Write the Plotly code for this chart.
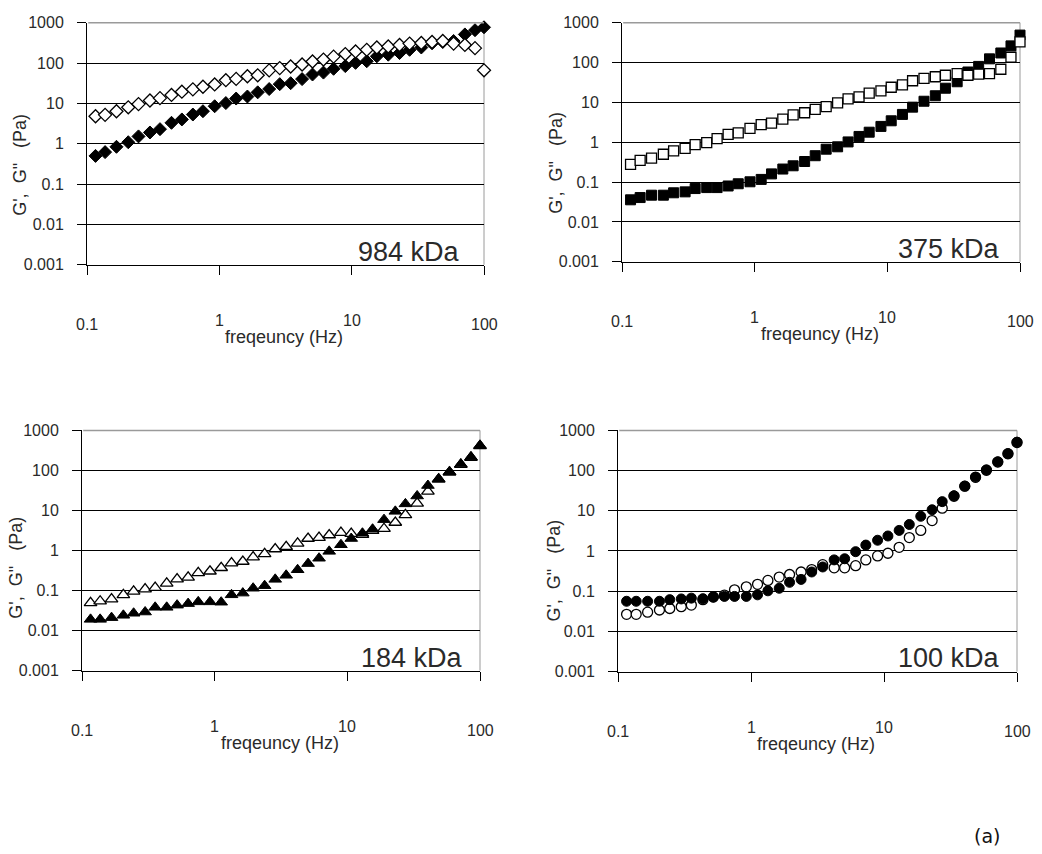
import math
import plotly.graph_objects as go

W, H = 1042, 854

# frequency grid (Hz)
freq = [0.116, 0.137, 0.167, 0.205, 0.245, 0.299, 0.356, 0.435, 0.521, 0.631,
        0.752, 0.922, 1.12, 1.34, 1.63, 1.95, 2.38, 2.86, 3.46, 4.22,
        5.06, 6.12, 7.30, 8.95, 10.7, 13.0, 15.5, 18.9, 23.0, 27.4,
        33.6, 40.5, 48.8, 58.9, 71.7, 85.5, 100]

# 984 kDa
g984_filled = [0.50, 0.62, 0.84, 1.09, 1.52, 1.9, 2.3, 3.3, 4.0, 5.3,
               6.4, 8.5, 10.2, 13.2, 14.8, 18.8, 22.7, 30, 31.7, 40,
               52, 58, 72, 84, 101, 111, 147, 161, 177, 213,
               243, 309, 333, 352, 512, 652, 770]
g984_open = [4.8, 5.2, 6.4, 8.0, 9.6, 11.8, 13.5, 16.2, 19.5, 22.3,
             25.9, 29.5, 37.6, 40.5, 47, 49.7, 65.7, 75, 82, 92,
             109, 122, 144, 167, 194, 213, 243, 257, 281, 303,
             315, 333, 352, 303, 281, 234, 66]

# 375 kDa
g375_filled = [0.036, 0.041, 0.047, 0.047, 0.054, 0.057, 0.069, 0.073, 0.073, 0.080,
               0.091, 0.102, 0.117, 0.161, 0.213, 0.257, 0.329, 0.46, 0.67, 0.77,
               1.02, 1.40, 1.79, 2.5, 3.46, 5.0, 7.6, 10.7, 14.7, 22.7,
               33, 58, 80, 124, 174, 262, 489]
g375_open = [0.28, 0.35, 0.40, 0.50, 0.61, 0.70, 0.87, 0.98, 1.23, 1.57,
             1.72, 2.24, 2.76, 3.03, 3.8, 4.85, 5.5, 6.7, 7.8, 9.7,
             12.2, 13.7, 17.1, 19.5, 24, 27.4, 35, 40, 44, 48,
             53, 48, 51, 53, 68, 136, 330]

# 184 kDa
g184_filled = [0.019, 0.019, 0.021, 0.024, 0.027, 0.029, 0.038, 0.038, 0.043, 0.047,
               0.052, 0.052, 0.051, 0.078, 0.086, 0.114, 0.132, 0.19, 0.24, 0.33,
               0.47, 0.64, 0.95, 1.39, 1.99, 2.7, 3.4, 5.9, 9.5, 14.6,
               23, 42, 62, 93, 144, 218, 421]
g184_open = [0.049, 0.054, 0.061, 0.078, 0.095, 0.108, 0.118, 0.151, 0.193, 0.212,
             0.276, 0.303, 0.37, 0.485, 0.53, 0.68, 0.82, 1.09, 1.24, 1.50,
             1.99, 2.1, 2.44, 2.79, 2.63, 2.5, 3.15, 3.5, 5.0, 7.8,
             15, 30, 60, 90, 140, 210, 410]

# 100 kDa
g100_filled = [0.056, 0.056, 0.056, 0.056, 0.0615, 0.064, 0.067, 0.065, 0.0715, 0.074,
               0.074, 0.074, 0.081, 0.102, 0.118, 0.166, 0.196, 0.30, 0.40, 0.60,
               0.64, 0.96, 1.40, 1.85, 2.36, 3.25, 4.56, 7.3, 10.6, 16.9,
               23.7, 41, 69, 104, 166, 265, 509]
g100_open = [0.0265, 0.0265, 0.030, 0.034, 0.037, 0.041, 0.045, 0.0615, 0.0715, 0.080,
             0.108, 0.128, 0.148, 0.185, 0.224, 0.26, 0.30, 0.344, 0.456, 0.38,
             0.38, 0.43, 0.60, 0.755, 0.877, 1.23, 2.15, 3.25, 5.7, 11.6,
             23, 41, 68, 102, 163, 262, 500]

labels = ["984 kDa", "375 kDa", "184 kDa", "100 kDa"]
y_tickvals = [0.001, 0.01, 0.1, 1, 10, 100, 1000]
y_ticktext = ["0.001", "0.01", "0.1", "1", "10", "100", "1000"]
x_tickvals = [0.1, 1, 10, 100]
x_ticktext = ["0.1", "1", "10", "100"]
x_title = "freqeuncy (Hz)"
y_title = "G',  G\"   (Pa)"

# layout geometry (pixels)
panels = [
    dict(box=(87, 484, 15, 262), lab=(409, 249), ytitle=(20, 160), filled=g984_filled, opn=g984_open,
         sym="diamond", size=10, open_on_top=True),
    dict(box=(622, 1020, 15, 259), lab=(949, 246), ytitle=(556, 158), filled=g375_filled, opn=g375_open,
         sym="square", size=10, open_on_top=True),
    dict(box=(82, 480, 431, 676), lab=(412, 663), ytitle=(16, 571), filled=g184_filled, opn=g184_open,
         sym="triangle-up", size=11, open_on_top=False),
    dict(box=(618, 1017, 431, 677), lab=(949, 663), ytitle=(554, 574), filled=g100_filled, opn=g100_open,
         sym="circle", size=10, open_on_top=False),
]

def px(x):
    return x / W

def py(y):
    return 1 - y / H

FONT = "Liberation Sans, Arial, sans-serif"
TXT = "#2a2a2a"
fig = go.Figure()
layout = dict(width=W, height=H, margin=dict(l=0, r=0, t=0, b=0),
              paper_bgcolor="white", plot_bgcolor="white", showlegend=False,
              font=dict(family=FONT, color=TXT))
annotations = []
shapes = []

for i, p in enumerate(panels):
    n = "" if i == 0 else str(i + 1)
    xa, ya = "x" + n, "y" + n
    x0, x1, y0, y1 = p["box"]
    filled = go.Scatter(x=freq, y=p["filled"], xaxis=xa, yaxis=ya, mode="markers", cliponaxis=False,
                        marker=dict(symbol=p["sym"], size=p["size"], color="black",
                                    line=dict(color="black", width=1)))
    opn = go.Scatter(x=freq, y=p["opn"], xaxis=xa, yaxis=ya, mode="markers", cliponaxis=False,
                     marker=dict(symbol=p["sym"], size=p["size"], color="white",
                                 line=dict(color="black", width=1.3)))
    if p["open_on_top"]:
        fig.add_trace(filled)
        fig.add_trace(opn)
    else:
        fig.add_trace(opn)
        fig.add_trace(filled)

    layout["xaxis" + n] = dict(type="log", range=[-1, 2], domain=[px(x0), px(x1)], anchor=ya,
                               showgrid=False, showline=True, linecolor="black", linewidth=1,
                               ticks="outside", ticklen=9, tickcolor="black", tickvals=x_tickvals,
                               showticklabels=False, zeroline=False, fixedrange=True)
    layout["yaxis" + n] = dict(type="log", range=[-3, 3], domain=[py(y1), py(y0)], anchor=xa,
                               showgrid=True, gridcolor="black", gridwidth=1,
                               showline=True, linecolor="black", linewidth=1,
                               ticks="outside", ticklen=9, tickcolor="black",
                               tickvals=y_tickvals, ticktext=y_ticktext,
                               tickfont=dict(size=16, color=TXT), ticklabelstandoff=10,
                               zeroline=False, fixedrange=True)
    # grey right border (below markers) and grey top edge (above the top gridline)
    shapes.append(dict(type="line", xref=xa + " domain", yref=ya + " domain", x0=1, x1=1, y0=0, y1=1,
                       line=dict(color="#9a9a9a", width=1), layer="below"))
    shapes.append(dict(type="line", xref=xa + " domain", yref=ya + " domain", x0=0.003, x1=1, y0=1, y1=1,
                       line=dict(color="#9a9a9a", width=1.5), layer="above"))
    # x tick labels placed far below the axis
    for v, t in zip(x_tickvals, x_ticktext):
        raised = t in ("1", "10")
        annotations.append(dict(text=t, xref=xa, x=math.log10(v), yref="paper",
                                y=py(y1 + (57 if raised else 61)), showarrow=False,
                                xanchor="center", yanchor="middle",
                                font=dict(size=16, color=TXT)))
    # axis title between 1 and 10
    annotations.append(dict(text=x_title, xref="paper", x=px(x0 + (x1 - x0) * 0.497), yref="paper",
                            y=py(y1 + 74), showarrow=False, xanchor="center", yanchor="middle",
                            font=dict(size=18, color=TXT)))
    annotations.append(dict(text=y_title, xref="paper", x=px(p["ytitle"][0]), yref="paper",
                            y=py(p["ytitle"][1]), showarrow=False, textangle=-90,
                            xanchor="center", yanchor="middle", font=dict(size=18, color=TXT)))
    annotations.append(dict(text=labels[i], xref="paper", x=px(p["lab"][0]), yref="paper",
                            y=py(p["lab"][1]), showarrow=False, xanchor="center", yanchor="middle",
                            font=dict(size=27, color=TXT)))

annotations.append(dict(text="(a)", xref="paper", x=px(987), yref="paper", y=py(845), showarrow=False,
                        xanchor="center", yanchor="middle",
                        font=dict(size=19, color="#111", family="DejaVu Sans, sans-serif")))

layout["annotations"] = annotations
layout["shapes"] = shapes
fig.update_layout(**layout)
fig.write_html("out.html")
